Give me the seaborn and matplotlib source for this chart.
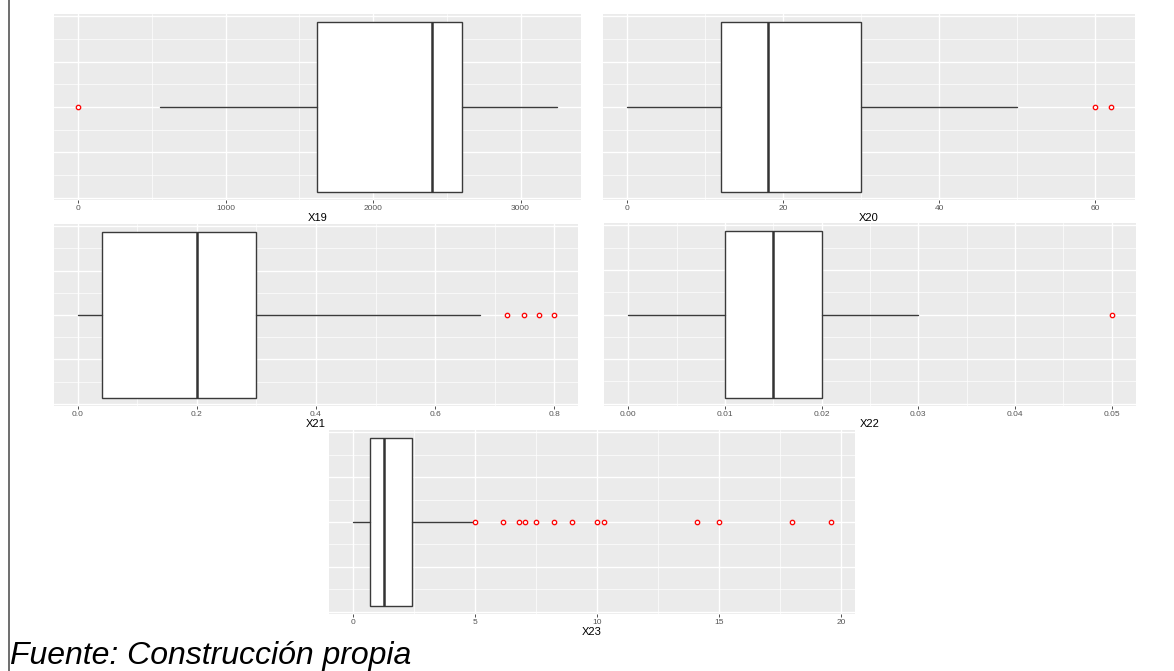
import seaborn as sns
import matplotlib.pyplot as plt
from matplotlib.ticker import MultipleLocator, FormatStrFormatter

# five-number summaries: [whislo, q1, med, q3, whishi]
x19_box = [554, 1619, 2397, 2600, 3247]
x19_out = [0]
x20_box = [0, 12, 18, 30, 50]
x20_out = [60, 62]
x21_box = [0, 0.04, 0.2, 0.3, 0.675]
x21_out = [0.72, 0.75, 0.775, 0.8]
x22_box = [0, 0.01, 0.015, 0.02, 0.03]
x22_out = [0.05]
x23_box = [0, 0.72, 1.26, 2.42, 4.9]
x23_out = [5.0, 6.15, 6.8, 7.05, 7.5, 8.25, 9.0, 10.0, 10.3, 14.1, 15.0, 18.0, 19.6]

names = ['X19', 'X20', 'X21', 'X22', 'X23']
boxes = [x19_box, x20_box, x21_box, x22_box, x23_box]
outs = [x19_out, x20_out, x21_out, x22_out, x23_out]
major = [1000, 20, 0.2, 0.01, 5]
fmts = ['%d', '%d', '%.1f', '%.2f', '%d']

sns.set_theme(style="darkgrid", rc={"axes.facecolor": "#EBEBEB",
                                    "grid.color": "white",
                                    "figure.facecolor": "white"})
plt.rcParams['font.family'] = ['Liberation Sans', 'DejaVu Sans']

W, H = 1174, 671
fig = plt.figure(figsize=(W / 100, H / 100), dpi=100)

# panel rectangles in pixels: left, top, right, bottom
panels = [(54, 14, 581, 200), (603, 14, 1135, 200),
          (54, 224, 578, 406), (604, 223, 1136, 406),
          (329, 430, 855, 614)]

for name, b, o, mj, fm, (l, t, r, bt) in zip(names, boxes, outs, major, fmts, panels):
    ax = fig.add_axes([l / W, 1 - bt / H, (r - l) / W, (bt - t) / H])
    stats = [{'whislo': b[0], 'q1': b[1], 'med': b[2], 'q3': b[3],
              'whishi': b[4], 'fliers': o}]
    ax.bxp(stats, positions=[0], widths=0.75, orientation='horizontal',
           showcaps=False, patch_artist=True,
           boxprops=dict(facecolor='white', edgecolor='#3a3a3a', linewidth=1.0),
           whiskerprops=dict(color='#3a3a3a', linewidth=1.0),
           medianprops=dict(color='#333333', linewidth=1.8),
           flierprops=dict(marker='o', markerfacecolor='none',
                           markeredgecolor='red', markersize=3.2,
                           markeredgewidth=0.9))
    lo = min(b + o)
    hi = max(b + o)
    pad = 0.05 * (hi - lo)
    ax.set_xlim(lo - pad, hi + pad)
    ax.set_ylim(-0.41, 0.41)
    ax.xaxis.set_major_locator(MultipleLocator(mj))
    ax.xaxis.set_minor_locator(MultipleLocator(mj / 2))
    ax.xaxis.set_major_formatter(FormatStrFormatter(fm))
    ax.yaxis.set_major_locator(MultipleLocator(0.2))
    ax.yaxis.set_minor_locator(MultipleLocator(0.1))
    ax.grid(which='major', color='white', linewidth=1.0)
    ax.grid(which='minor', color='white', linewidth=0.5)
    ax.set_axisbelow(True)
    for s in ax.spines.values():
        s.set_visible(False)
    ax.tick_params(axis='x', which='major', bottom=True, length=2, width=0.6,
                   color='#333333', labelsize=6, labelcolor='#555555', pad=1.5)
    ax.tick_params(axis='x', which='minor', bottom=False)
    ax.tick_params(axis='y', which='both', left=False, labelleft=False)
    ax.set_yticklabels([])
    ax.set_xlabel(name, fontsize=8, color='black', labelpad=1)
    ax.set_ylabel('')

# page border line at the left and source note
fig.add_artist(plt.Line2D([8.5 / W, 8.5 / W], [0, 1], color='#555555', linewidth=1.2))
fig.text(10 / W, 1 - 656 / H, 'Fuente: Construcción propia', fontsize=23,
         style='italic', va='center', ha='left', color='black')

fig.savefig('out.png', dpi=100)
